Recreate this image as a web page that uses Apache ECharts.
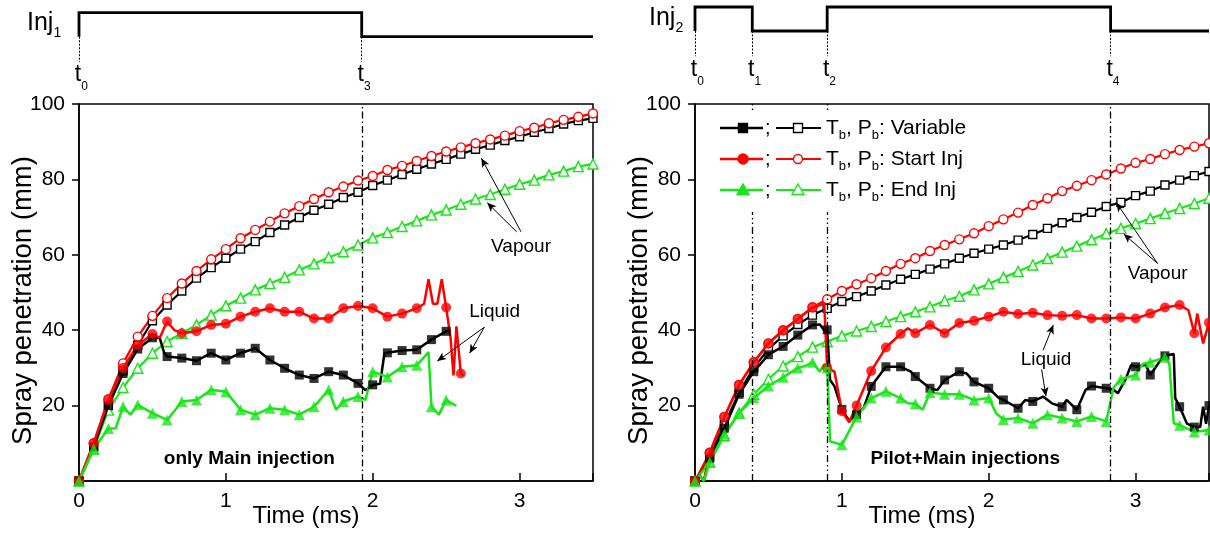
<!DOCTYPE html>
<html><head><meta charset="utf-8">
<script src="https://cdn.jsdelivr.net/npm/echarts@6/dist/echarts.min.js"></script>
<style>html,body{margin:0;padding:0;background:#fff;}#c{width:1210px;height:533px;}</style>
</head><body><div id="c"></div>
<script>
const FONT = '"Liberation Sans", Arial, Helvetica, sans-serif';

// ---------- data ----------
const xTicks = [0, 1, 2, 3];
const yTicks = [0, 20, 40, 60, 80, 100];
// injection timing (ms): rise, fall, rise, fall ...
const inj1Times = [0, 1.925];
const inj1Labels = ['0', '3'];
const inj2Times = [0, 0.39, 0.9, 2.83];
const inj2Labels = ['0', '1', '2', '4'];

const vapourTimes = [0,0.1,0.2,0.3,0.4,0.5,0.6,0.7,0.8,0.9,1.0,1.1,1.2,1.3,1.4,1.5,1.6,1.7,1.8,1.9,2.0,2.1,2.2,2.3,2.4,2.5,2.6,2.7,2.8,2.9,3.0,3.1,3.2,3.3,3.4,3.5];

// Only Main injection - vapour
const mainVapVariable = [0,9.2,20,29.2,36,42.5,46.7,50.4,53.8,56.6,59.1,61.5,63.5,65.9,67.9,69.9,71.8,73.4,75.2,76.6,78.4,79.8,81.3,82.7,84.1,85.3,86.7,88.0,89.1,90.3,91.3,92.5,93.5,94.7,95.6,96.2];
const mainVapStart = [0,10,21.7,31.2,38.3,43.8,48.5,52.4,55.7,58.8,61.5,64.4,66.6,68.8,71.0,72.9,74.8,76.6,78.1,79.7,80.9,82.5,83.6,84.9,86.2,87.4,88.5,89.6,90.6,91.6,92.8,93.7,94.9,95.8,96.6,97.5];
const mainVapEnd = [0,8.5,18.8,24.8,29.9,33.9,37.0,39.2,41.4,44.0,46.5,48.5,50.7,52.4,54.0,56.0,57.6,59.3,60.8,62.6,64.5,65.9,67.5,69.0,70.6,71.9,73.4,74.8,76.0,77.4,78.7,79.8,81.2,82.2,83.4,84.1];

// Only Main injection - liquid [time, mm]
const mainLiqVariable = [[0,0],[0.1,9],[0.2,20],[0.3,28.5],[0.4,35],[0.5,38],[0.55,37.9],[0.58,34],[0.6,33],[0.7,32.6],[0.8,31.9],[0.9,33.9],[1.0,32.1],[1.1,33.9],[1.2,35.2],[1.3,32.1],[1.4,29.9],[1.5,28.1],[1.6,27.2],[1.7,29],[1.8,28.1],[1.9,25.9],[1.95,24.1],[2.0,25.5],[2.05,25.8],[2.08,33.9],[2.1,34],[2.2,34.6],[2.3,34.8],[2.4,37.5],[2.5,39.7],[2.53,40.1]];
const mainLiqStart = [[0,0],[0.1,10],[0.2,21.5],[0.3,30],[0.4,36],[0.5,39],[0.55,38],[0.6,42.3],[0.65,40],[0.7,39.2],[0.8,39.7],[0.9,41.4],[1.0,41.7],[1.1,43.6],[1.2,44.9],[1.3,45.8],[1.4,44.9],[1.5,44.9],[1.6,43.1],[1.7,43.1],[1.8,45.8],[1.9,46.4],[2.0,45.8],[2.1,43.6],[2.2,44.4],[2.3,45.8],[2.35,47],[2.38,53.5],[2.41,47],[2.44,47],[2.47,53.5],[2.5,46],[2.53,38],[2.55,28],[2.57,41],[2.6,28.5],[2.62,28]];
const mainLiqEnd = [[0,0],[0.1,8.5],[0.2,13.9],[0.25,14],[0.3,19.7],[0.35,17.6],[0.4,20.2],[0.5,18],[0.6,16.2],[0.7,21.1],[0.8,21.5],[0.9,24.2],[1.0,23.7],[1.1,18.9],[1.2,17.6],[1.3,19.3],[1.4,18.9],[1.5,17.6],[1.6,19.7],[1.7,24.2],[1.75,18.9],[1.8,21.1],[1.9,22.4],[1.95,21.5],[2.0,29],[2.1,27.6],[2.2,30.3],[2.3,30.7],[2.38,34.2],[2.4,19.7],[2.45,17.6],[2.5,21.5],[2.57,19.9]];

// Pilot+Main injections - vapour
const pmVapVariable = [0,6.5,15,23.5,30,35,38.5,41.5,44,45.8,47.6,48.9,50.4,52.0,53.5,54.8,56.2,57.6,59.1,60.4,61.5,62.6,63.9,65.4,67.0,68.5,69.9,71.3,72.8,73.9,75.7,76.9,78.5,79.8,81.0,82.1];
const pmVapStart = [0,7.5,17,25.5,31.5,36.5,40,43,46.1,48.2,50.4,52.2,53.8,55.7,57.6,59.1,61.0,62.6,64.1,65.7,67.6,69.4,71.2,73.2,75.0,76.9,78.3,79.8,81.3,82.9,84.4,85.4,86.7,87.8,88.7,89.6];
const pmVapEnd = [0,5,12,18,23,27,30.5,33,35.5,37,38.5,39.8,41,42.3,43.6,44.9,46.2,47.8,49.0,50.7,52.3,54.0,55.6,57.3,59.0,60.7,62.3,64.0,65.6,67.0,68.3,69.6,71.0,72.3,73.6,75.0];

// Pilot+Main injections - liquid [time, mm]
const pmLiqVariable = [[0,0],[0.03,1.5],[0.06,0],[0.1,6],[0.2,14],[0.3,23],[0.4,29],[0.5,33.5],[0.6,35.7],[0.7,38.7],[0.8,41.4],[0.85,41.5],[0.88,40],[0.9,40.1],[0.92,26.8],[0.95,25.1],[1.0,19],[1.05,16],[1.1,17.6],[1.15,19.5],[1.2,25.1],[1.25,27.7],[1.3,30.3],[1.4,30.3],[1.47,29],[1.5,27.7],[1.6,24.6],[1.65,24.1],[1.7,26.8],[1.8,29],[1.85,28.5],[1.9,26.3],[2.0,24.6],[2.07,22],[2.1,21.5],[2.2,19.3],[2.25,21.5],[2.3,21.1],[2.37,22.4],[2.43,20.6],[2.5,19.7],[2.53,21.5],[2.6,18.9],[2.66,24.2],[2.7,25.2],[2.8,24.6],[2.85,24.2],[2.88,23.3],[2.93,26.8],[2.97,30.8],[3.0,30.3],[3.07,30.8],[3.1,28.1],[3.16,31.5],[3.2,33.2],[3.26,33.7],[3.27,22],[3.3,19.7],[3.35,15.2],[3.4,14.3],[3.44,14.3],[3.46,19.7],[3.48,15.2],[3.5,20]];
const pmLiqStart = [[0,0],[0.03,1.5],[0.06,0],[0.1,7.5],[0.2,17],[0.3,25.5],[0.4,31.5],[0.5,36.5],[0.6,40],[0.7,43],[0.8,46],[0.88,47],[0.9,30],[0.95,29],[1.0,18.5],[1.05,15.6],[1.1,20],[1.2,29.2],[1.3,35.4],[1.4,39],[1.45,40.5],[1.5,39.2],[1.6,41.4],[1.7,39.2],[1.8,41.9],[1.9,42.5],[2.0,43.6],[2.1,44.9],[2.2,44.3],[2.3,44.6],[2.4,44.0],[2.5,43.8],[2.6,44.0],[2.7,43.1],[2.8,43.1],[2.9,43.4],[3.0,43.1],[3.1,44.4],[3.2,46.0],[3.3,46.7],[3.36,45.3],[3.4,39.2],[3.42,44.4],[3.46,36.5],[3.5,42]];
const pmLiqEnd = [[0,0],[0.03,1.5],[0.06,0],[0.1,5],[0.2,12.5],[0.3,18],[0.4,22],[0.5,25.2],[0.6,27.5],[0.7,30],[0.75,30.5],[0.8,31.5],[0.85,29],[0.88,31],[0.9,30],[0.92,10.5],[1.0,9.6],[1.1,17],[1.2,22],[1.3,23.8],[1.4,22],[1.45,20.6],[1.5,20.5],[1.55,18.9],[1.6,23.5],[1.7,23],[1.8,23],[1.9,21.5],[2.0,22],[2.05,18],[2.1,16.3],[2.2,16.7],[2.3,15.3],[2.4,17.6],[2.5,16.7],[2.6,15.8],[2.7,17.1],[2.8,15.8],[2.85,24.8],[2.9,27],[3.0,28.1],[3.05,31.1],[3.1,31.5],[3.2,32.8],[3.23,31.1],[3.26,15.3],[3.3,14.8],[3.4,13],[3.5,13.5]];

// annotation anchors [time, mm]
const leftVapourLabel = [3.01, 62];
const leftVapourArrows = [[[3.01,66.1],[2.74,85.6]], [[2.98,66.1],[2.78,73.8]]];
const leftLiquidLabel = [2.83, 44.8];
const leftLiquidArrows = [[[2.76,40.8],[2.44,31.8]], [[2.76,40.8],[2.66,33.9]]];
const rightVapourLabel = [3.15, 54.9];
const rightVapourArrows = [[[3.15,57.7],[2.87,73.8]], [[3.15,57.7],[2.92,65.5]]];
const rightLiquidLabel = [2.39, 32.1];
const rightLiquidArrows = [[[2.37,34.7],[2.44,41.4]], [[2.36,29.6],[2.39,22.5]]];

// ---------- styles ----------
const BLACK = '#000000', RED = '#ff0000', GREEN = '#19e619';

const chart = echarts.init(document.getElementById('c'), null, {renderer: 'canvas', width: 1210, height: 533});

const PW = 514, PH = 377;

function timingGrid(left, top) { return {left, top, width: PW, height: 88.8, show: false, containLabel: false, outerBoundsMode: 'none'}; }
function plotGrid(left, top) { return {left, top, width: PW, height: PH, show: true, borderColor: BLACK, borderWidth: 1.5, backgroundColor: 'transparent', containLabel: false, outerBoundsMode: 'none'}; }

const grids = [timingGrid(79, 7.9), plotGrid(79, 104), timingGrid(695, 2.2), plotGrid(695, 104)];

function hiddenX(g) { return {type: 'value', gridIndex: g, min: 0, max: 3.5, show: false}; }
function hiddenY(g) { return {type: 'value', gridIndex: g, min: -2.5, max: 1.2, show: false}; }
function plotX(g) {
  return {type: 'value', gridIndex: g, min: xTicks[0], max: 3.5, interval: 1,
    axisLine: {show: true, lineStyle: {color: BLACK, width: 1.5}},
    axisTick: {show: true, inside: true, length: 8, lineStyle: {color: BLACK, width: 1.5}},
    axisLabel: {color: BLACK, fontSize: 21, fontFamily: FONT, margin: 10, formatter: v => xTicks.includes(v) ? String(v) : ''},
    splitLine: {show: false},
    name: 'Time (ms)', nameLocation: 'middle', nameGap: 23, nameMoveOverlap: false,
    nameTextStyle: {color: BLACK, fontSize: 24, fontFamily: FONT, padding: [0, 60, 0, 0]}};
}
function plotY(g) {
  return {type: 'value', gridIndex: g, min: yTicks[0], max: yTicks[yTicks.length - 1], interval: 20,
    axisLine: {show: true, lineStyle: {color: BLACK, width: 1.5}},
    axisTick: {show: true, inside: false, length: 7, lineStyle: {color: BLACK, width: 1.5}},
    axisLabel: {color: BLACK, fontSize: 21, fontFamily: FONT, margin: 14, showMinLabel: false},
    splitLine: {show: false},
    name: 'Spray penetration (mm)', nameLocation: 'middle', nameGap: 42, nameMoveOverlap: false,
    nameTextStyle: {color: BLACK, fontSize: 27.5, fontFamily: FONT, padding: [0, 16, 0, 0]}};
}

function stepPoints(times) {
  const pts = [[times[0], 0], [times[0], 1]];
  let lvl = 1;
  for (let i = 1; i < times.length; i++) { pts.push([times[i], lvl]); lvl = 1 - lvl; pts.push([times[i], lvl]); }
  pts.push([3.5, lvl]);
  return pts;
}
function timingSeries(g, times) {
  return {type: 'line', xAxisIndex: g, yAxisIndex: g, data: stepPoints(times), showSymbol: false, clip: false,
    lineStyle: {color: BLACK, width: 2.8, join: 'miter'}, animation: false, silent: true,
    markLine: {silent: true, symbol: ['none', 'none'], label: {show: false}, animation: false,
      lineStyle: {color: BLACK, width: 1, type: [2, 1.5]},
      data: times.map(t => [{coord: [t, 0]}, {coord: [t, -1.05]}])}};
}

function vapSeries(g, values, color, symbol, size) {
  return {type: 'line', xAxisIndex: g, yAxisIndex: g, data: vapourTimes.map((t, i) => [t, values[i]]),
    symbol, symbolSize: size, showSymbol: true, showAllSymbol: true, clip: false,
    lineStyle: {color, width: 2.2}, itemStyle: {color: '#ffffff', borderColor: color, borderWidth: 1.4},
    animation: false, silent: true, z: 3};
}
const onGrid = p => Math.abs(p[0] * 10 - Math.round(p[0] * 10)) < 0.01;
function liqSeries(g, pts, color, symbol, size) {
  return [
    {type: 'line', xAxisIndex: g, yAxisIndex: g, data: pts, showSymbol: false, clip: false,
      lineStyle: {color, width: 2.5}, animation: false, silent: true, z: 4},
    {type: 'scatter', xAxisIndex: g, yAxisIndex: g, data: pts.filter(onGrid), symbol, symbolSize: size,
      itemStyle: {color}, animation: false, silent: true, z: 4}
  ];
}
function guideSeries(g, vlines, arrowSets) {
  const data = [];
  vlines.forEach(v => data.push({xAxis: v.t, lineStyle: {color: BLACK, width: 1.3, type: v.type}}));
  arrowSets.forEach(a => data.push([
    {coord: a[0], symbol: 'none', lineStyle: {color: BLACK, width: 1, type: 'solid'}},
    {coord: a[1], symbol: 'arrow', symbolSize: [6, 9]}]));
  return {type: 'line', xAxisIndex: g, yAxisIndex: g, data: [], animation: false, silent: true, z: 2,
    markLine: {silent: true, symbol: ['none', 'none'], label: {show: false}, animation: false, data}};
}
const DASHDOT = [7, 3, 1.5, 3];
const DASHDOTDOT = [7, 3, 1.5, 3, 1.5, 3];

const series = [
  timingSeries(0, inj1Times),
  timingSeries(2, inj2Times),
  guideSeries(1, [{t: inj1Times[1], type: DASHDOT}], leftVapourArrows.concat(leftLiquidArrows)),
  guideSeries(3, [{t: inj2Times[1], type: DASHDOTDOT}, {t: inj2Times[2], type: DASHDOTDOT}, {t: inj2Times[3], type: DASHDOT}], rightVapourArrows.concat(rightLiquidArrows)),
  vapSeries(1, mainVapVariable, BLACK, 'rect', 8),
  vapSeries(1, mainVapStart, RED, 'circle', 9),
  vapSeries(1, mainVapEnd, GREEN, 'triangle', 10),
  ...liqSeries(1, mainLiqVariable, BLACK, 'rect', 9),
  ...liqSeries(1, mainLiqStart, RED, 'circle', 10),
  ...liqSeries(1, mainLiqEnd, GREEN, 'triangle', 11),
  vapSeries(3, pmVapVariable, BLACK, 'rect', 8),
  vapSeries(3, pmVapStart, RED, 'circle', 9),
  vapSeries(3, pmVapEnd, GREEN, 'triangle', 10),
  ...liqSeries(3, pmLiqVariable, BLACK, 'rect', 9),
  ...liqSeries(3, pmLiqStart, RED, 'circle', 10),
  ...liqSeries(3, pmLiqEnd, GREEN, 'triangle', 11)
];

chart.setOption({
  animation: false,
  backgroundColor: '#ffffff',
  textStyle: {fontFamily: FONT},
  grid: grids,
  xAxis: [hiddenX(0), plotX(1), hiddenX(2), plotX(3)],
  yAxis: [hiddenY(0), plotY(1), hiddenY(2), plotY(3)],
  series
});

// ---------- text / legend graphics ----------
const mctx = document.createElement('canvas').getContext('2d');
function textW(s, size, weight) { mctx.font = (weight || 'normal') + ' ' + size + 'px ' + FONT; return mctx.measureText(s).width; }
// parts: [text, size, dy, weight]
function runText(x, y, parts, align, z) {
  const total = parts.reduce((a, p) => a + textW(p[0], p[1], p[3]), 0);
  let cx = align === 'center' ? x - total / 2 : (align === 'right' ? x - total : x);
  return parts.map(p => {
    const el = {type: 'text', z: z || 60, x: cx, y: y + (p[2] || 0), silent: true,
      style: {text: p[0], fontSize: p[1], fontFamily: FONT, fontWeight: p[3] || 'normal', fill: BLACK,
        align: 'left', verticalAlign: 'middle', textAlign: 'left', textVerticalAlign: 'middle'}};
    cx += textW(p[0], p[1], p[3]);
    return el;
  });
}
const px = (g, p) => chart.convertToPixel({gridIndex: g}, p);

const G = [];
// Inj labels
G.push(...runText(27, 23, [['Inj', 25], ['1', 14, 10]], 'left'));
G.push(...runText(649, 18, [['Inj', 25], ['2', 14, 10]], 'left'));
// t labels
function tLabels(g, times, labels) {
  times.forEach((t, i) => {
    const p = px(g, [t, -1.6]);
    const wT = textW('t', 23);
    G.push(...runText(p[0] - wT / 2 - 1, p[1], [['t', 23], [labels[i], 12, 12]], 'left'));
  });
}
tLabels(0, inj1Times, inj1Labels);
tLabels(2, inj2Times, inj2Labels);

// annotation labels
function label(g, pos, text, size, weight) { const p = px(g, pos); G.push(...runText(p[0], p[1], [[text, size, 0, weight]], 'center')); }
label(1, leftVapourLabel, 'Vapour', 19);
label(1, leftLiquidLabel, 'Liquid', 19);
label(3, rightVapourLabel, 'Vapour', 19);
label(3, rightLiquidLabel, 'Liquid', 19);
label(1, [1.16, 5.9], 'only Main injection', 19, 'bold');
label(3, [1.84, 5.9], 'Pilot+Main injections', 19, 'bold');

// legend in right panel
G.push({type: 'rect', z: 50, silent: true, shape: {x: 712, y: 111, width: 262, height: 101}, style: {fill: '#ffffff'}});
const legendRows = [
  {y: 128, color: BLACK, sym: 'rect', text: 'Variable'},
  {y: 159, color: RED, sym: 'circle', text: 'Start Inj'},
  {y: 190, color: GREEN, sym: 'triangle', text: 'End Inj'}
];
function marker(sym, cx, cy, color, filled) {
  const style = {fill: filled ? color : '#ffffff', stroke: color, lineWidth: 1.4};
  if (sym === 'rect') return {type: 'rect', z: 55, silent: true, shape: {x: cx - 4.5, y: cy - 4.5, width: 9, height: 9}, style};
  if (sym === 'circle') return {type: 'circle', z: 55, silent: true, shape: {cx, cy, r: filled ? 5 : 4.5}, style};
  return {type: 'polygon', z: 55, silent: true, shape: {points: [[cx, cy - 6], [cx + 6, cy + 4.5], [cx - 6, cy + 4.5]]}, style};
}
legendRows.forEach(r => {
  G.push({type: 'line', z: 54, silent: true, shape: {x1: 720, y1: r.y, x2: 763, y2: r.y}, style: {stroke: r.color, lineWidth: 2.4}});
  G.push(marker(r.sym, 743, r.y, r.color, true));
  G.push(...runText(765, r.y, [[';', 20]], 'left'));
  G.push({type: 'line', z: 54, silent: true, shape: {x1: 776, y1: r.y, x2: 821, y2: r.y}, style: {stroke: r.color, lineWidth: 2.2}});
  G.push(marker(r.sym, 798, r.y, r.color, false));
  G.push(...runText(826, r.y, [['T', 21], ['b', 13, 7], [', P', 21], ['b', 13, 7], [': ' + r.text, 21]], 'left'));
});

chart.setOption({graphic: {elements: G}});
</script>
</body></html>
